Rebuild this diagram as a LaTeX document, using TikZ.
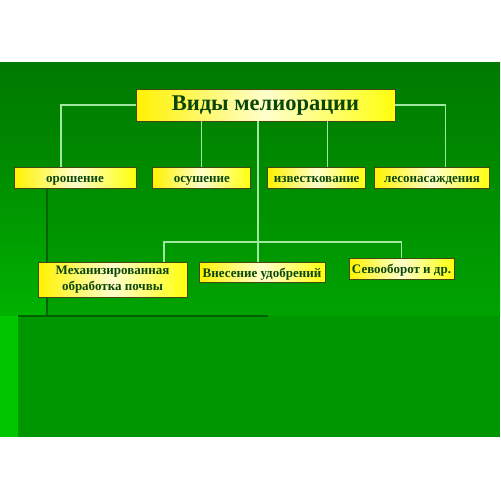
\documentclass[tikz,border=0pt]{standalone}
\usepackage{fontspec}
\setmainfont{Liberation Serif}
\usepackage{tikz}
\usetikzlibrary{positioning}

\definecolor{fondoalto}{RGB}{0,122,0}
\definecolor{fondomedio}{RGB}{0,162,0}
\definecolor{fondobanda}{RGB}{0,136,0}
\definecolor{fondobasso}{RGB}{0,150,0}
\definecolor{fondochiaro}{RGB}{0,198,0}
\definecolor{linea}{RGB}{160,232,160}
\definecolor{testo}{RGB}{10,70,10}
\definecolor{bordo}{RGB}{70,70,20}

\tikzset{
	casella/.style={rectangle, draw=bordo, line width=0.5pt, inner sep=0pt,
		left color=yellow!90!orange, right color=yellow!95!white, middle color=yellow!20!white,
		text=testo, font=\fontsize{7.4}{9}\selectfont\bfseries, align=center, minimum height=0.42cm},
	riga/.style={text height=1.55ex, text depth=0.25ex},
	ramo/.style={draw=linea, line width=0.6pt}
}

\begin{document}
\begin{tikzpicture}[x=0.02cm, y=-0.02cm]
	\useasboundingbox (0,0) rectangle (500,500);
	
	% Sfondo
	\fill[white] (0,0) rectangle (500,500);
	\shade[top color=fondoalto, bottom color=fondomedio] (0,63) rectangle (500,316);
	\shade[top color=fondobanda, bottom color=fondochiaro!90!black] (0,150) rectangle (47,316);
	\fill[fondobasso] (0,316) rectangle (500,437);
	\fill[fondochiaro] (0,316) rectangle (18,437);
	\draw[fondoalto!80!black, line width=0.8pt] (47,185) -- (47,316);
	\draw[fondoalto!80!black, line width=1pt] (18,316) -- (268,316);
	
	% Titolo
	\node[casella, riga, minimum width=5.18cm, minimum height=0.64cm, font=\fontsize{12.8}{15}\selectfont\bfseries] (titolo) at (265.5,105) {Виды мелиорации};
	
	% Primo livello
	\node[casella, riga, minimum width=2.44cm] (orosh) at (75,177.5) {орошение};
	\node[casella, riga, minimum width=1.96cm, right=0.32cm of orosh] (osush) {осушение};
	\node[casella, riga, minimum width=1.96cm, right=0.32cm of osush] (izvest) {известкование};
	\node[casella, riga, minimum width=2.30cm, right=0.16cm of izvest] (lesnas) {лесонасаждения};
	
	% Secondo livello
	\node[casella, minimum width=2.98cm, minimum height=0.70cm] (mekh) at (112.5,279.5) {Механизированная\\обработка почвы};
	\node[casella, riga, minimum width=2.52cm, minimum height=0.40cm] (vnes) at (262,272) {Внесение удобрений};
	\node[casella, riga, minimum width=2.10cm] (sevo) at (401.5,268.5) {Севооборот и др.};
	
	% Collegamenti
	\coordinate (oroin) at ([xshift=-0.28cm]orosh.north);
	\coordinate (lesin) at ([xshift=0.27cm]lesnas.north);
	\coordinate (izvin) at ([xshift=0.22cm]izvest.north);
	\coordinate (mekhin) at ([xshift=1.03cm]mekh.north);
	\coordinate (bus) at (258,242);
	\draw[ramo] (oroin) |- (titolo.west);
	\draw[ramo] (lesin) |- (titolo.east);
	\draw[ramo] (osush.north) -- (osush.north |- titolo.south);
	\draw[ramo] (izvin) -- (izvin |- titolo.south);
	\draw[ramo] (bus |- titolo.south) -- (bus |- vnes.north);
	\draw[ramo] (mekhin) |- (bus) -| (sevo.north);
\end{tikzpicture}
\end{document}
